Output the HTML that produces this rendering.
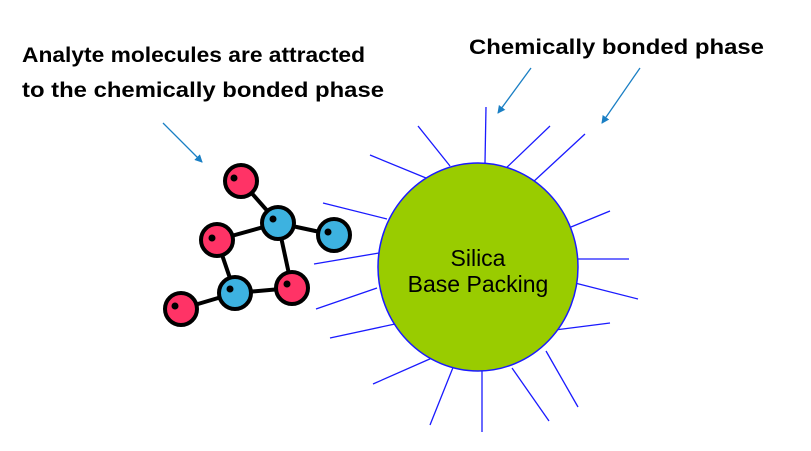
<!DOCTYPE html>
<html><head><meta charset="utf-8"><style>
html,body{margin:0;padding:0;background:#fff;}
svg{display:block;}
text{font-family:"Liberation Sans",Arial,sans-serif;}
</style></head><body>
<svg width="811" height="451" viewBox="0 0 811 451">
<defs>
<marker id="ah" markerWidth="8" markerHeight="8" refX="7" refY="4" orient="auto" markerUnits="userSpaceOnUse">
<path d="M0,0 L8,4 L0,8 z" fill="#1a7fc4"/>
</marker>
</defs>
<text x="22" y="62" font-size="21" font-weight="bold" textLength="343" lengthAdjust="spacingAndGlyphs">Analyte molecules are attracted</text>
<text x="22" y="97" font-size="21" font-weight="bold" textLength="362" lengthAdjust="spacingAndGlyphs">to the chemically bonded phase</text>
<text x="469" y="54" font-size="21" font-weight="bold" textLength="295" lengthAdjust="spacingAndGlyphs">Chemically bonded phase</text>
<g stroke="#1a7fc4" stroke-width="1.3" marker-end="url(#ah)">
<line x1="163" y1="123" x2="202" y2="162"/>
<line x1="531" y1="68" x2="498" y2="113"/>
<line x1="640" y1="68" x2="602" y2="123"/>
</g>
<g stroke="#1a1aff" stroke-width="1.3">
<line x1="486" y1="107" x2="485" y2="163"/>
<line x1="418" y1="126" x2="450" y2="166"/>
<line x1="550" y1="126" x2="503" y2="171"/>
<line x1="585" y1="134" x2="532" y2="183"/>
<line x1="370" y1="155" x2="426" y2="178"/>
<line x1="323" y1="203" x2="387" y2="219"/>
<line x1="610" y1="211" x2="571" y2="227"/>
<line x1="314" y1="264" x2="379" y2="253"/>
<line x1="573" y1="259" x2="629" y2="259"/>
<line x1="316" y1="309" x2="377" y2="288"/>
<line x1="575" y1="283" x2="638" y2="299"/>
<line x1="330" y1="338" x2="395" y2="324"/>
<line x1="555" y1="330" x2="610" y2="323"/>
<line x1="373" y1="384" x2="432" y2="358"/>
<line x1="454" y1="365" x2="430" y2="425"/>
<line x1="482" y1="367" x2="482" y2="432"/>
<line x1="512" y1="368" x2="549" y2="421"/>
<line x1="546" y1="351" x2="578" y2="407"/>
</g>
<ellipse cx="478" cy="267" rx="100" ry="104" fill="#99cc00" stroke="#1a1aff" stroke-width="1.5"/>
<text x="478" y="266" font-size="23" text-anchor="middle">Silica</text>
<text x="478" y="292" font-size="23" text-anchor="middle">Base Packing</text>
<g stroke="#000" stroke-width="4">
<line x1="241" y1="181" x2="278" y2="223"/>
<line x1="278" y1="223" x2="334" y2="235"/>
<line x1="278" y1="223" x2="217" y2="240"/>
<line x1="278" y1="223" x2="292" y2="288"/>
<line x1="217" y1="240" x2="235" y2="293"/>
<line x1="235" y1="293" x2="292" y2="288"/>
<line x1="235" y1="293" x2="181" y2="309"/>
</g>
<g stroke="#000" stroke-width="4">
<circle cx="241" cy="181" r="16" fill="#ff3366"/>
<circle cx="278" cy="223" r="16" fill="#3db2e0"/>
<circle cx="334" cy="235" r="16" fill="#3db2e0"/>
<circle cx="217" cy="240" r="16" fill="#ff3366"/>
<circle cx="292" cy="288" r="16" fill="#ff3366"/>
<circle cx="235" cy="293" r="16" fill="#3db2e0"/>
<circle cx="181" cy="309" r="16" fill="#ff3366"/>
</g>
<g fill="#000">
<circle cx="234" cy="178" r="3.5"/>
<circle cx="273" cy="219" r="3.5"/>
<circle cx="328" cy="232" r="3.5"/>
<circle cx="212" cy="238" r="3.5"/>
<circle cx="287" cy="284" r="3.5"/>
<circle cx="230" cy="289" r="3.5"/>
<circle cx="175" cy="306" r="3.5"/>
</g>
</svg>
</body></html>
